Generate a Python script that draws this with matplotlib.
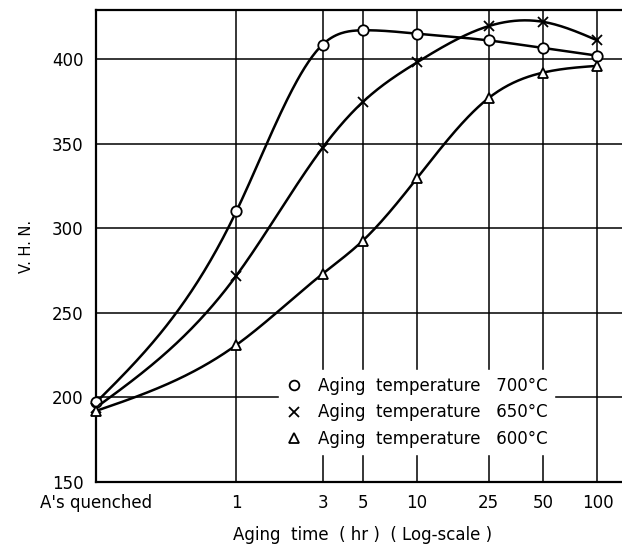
import numpy as np
import matplotlib
matplotlib.use("Agg")
import matplotlib.pyplot as plt
from matplotlib.lines import Line2D

# aging time positions (hr); "As quenched" is put left of 1 hr on the log axis
times = [0.167, 1, 3, 5, 10, 25, 50, 100]
tick_times = [0.167, 1, 3, 5, 10, 25, 50, 100]
tick_labels = ["A's quenched", "1", "3", "5", "10", "25", "50", "100"]

vhn_700 = [197, 310, 408.5, 417, 415, 411, 406.5, 402]
vhn_650 = [194, 272, 347.5, 374.5, 398, 419.5, 422, 411]
vhn_600 = [192, 231, 273, 292.5, 329.5, 377, 392, 396]

legend_labels = ["Aging  temperature   700\u00b0C",
                 "Aging  temperature   650\u00b0C",
                 "Aging  temperature   600\u00b0C"]


def natural_spline(x, y, n=400):
    # natural cubic spline, used only to draw the smooth hand-drawn curve
    x = np.asarray(x, float)
    y = np.asarray(y, float)
    k = len(x)
    h = np.diff(x)
    A = np.zeros((k, k))
    b = np.zeros(k)
    A[0, 0] = A[-1, -1] = 1
    for i in range(1, k - 1):
        A[i, i - 1] = h[i - 1]
        A[i, i] = 2 * (h[i - 1] + h[i])
        A[i, i + 1] = h[i]
        b[i] = 6 * ((y[i + 1] - y[i]) / h[i] - (y[i] - y[i - 1]) / h[i - 1])
    m = np.linalg.solve(A, b)
    xs = np.linspace(x[0], x[-1], n)
    idx = np.clip(np.searchsorted(x, xs) - 1, 0, k - 2)
    x0, x1 = x[idx], x[idx + 1]
    hh = x1 - x0
    t0, t1 = x1 - xs, xs - x0
    ys = (m[idx] * t0 ** 3 + m[idx + 1] * t1 ** 3) / (6 * hh) \
        + (y[idx] / hh - m[idx] * hh / 6) * t0 \
        + (y[idx + 1] / hh - m[idx + 1] * hh / 6) * t1
    return xs, ys


fig = plt.figure(figsize=(6.22, 5.47), dpi=100)
ax = fig.add_axes([96 / 622, 1 - 482 / 547, 1 - 96 / 622 + 0.01, (482 - 10) / 547])

lx = np.log10(times)
for series, mk in [(vhn_700, "o"), (vhn_650, "x"), (vhn_600, "^")]:
    xs, ys = natural_spline(lx, series)
    ax.plot(10 ** xs, ys, color="black", lw=1.8, zorder=3)
    if mk == "x":
        ax.plot(times, series, ls="none", marker="x", ms=7, mew=1.3,
                color="black", zorder=4, clip_on=False)
    else:
        ax.plot(times, series, ls="none", marker=mk, ms=7.5, mew=1.3,
                mfc="white", mec="black", zorder=4, clip_on=False)

ax.set_xscale("log")
ax.set_xlim(0.167, 148)
ax.set_ylim(150, 429)
ax.set_yticks([150, 200, 250, 300, 350, 400])
ax.set_xticks(tick_times)
ax.set_xticklabels(tick_labels)
ax.minorticks_off()
ax.tick_params(length=0, labelsize=12, pad=9)

for t in tick_times[1:]:
    ax.axvline(t, color="black", lw=1.1, zorder=1)
for v in [200, 250, 300, 350, 400]:
    ax.axhline(v, color="black", lw=1.1, zorder=1)

for s in ["left", "bottom", "top"]:
    ax.spines[s].set_linewidth(1.6)
ax.spines["right"].set_visible(False)

ax.set_xlabel("Aging  time  ( hr )  ( Log-scale )", fontsize=12, labelpad=10)
ax.set_ylabel("V. H. N.", fontsize=10.5, labelpad=13)

handles = [
    Line2D([], [], ls="none", marker="o", ms=7, mew=1.3, mfc="white", mec="black"),
    Line2D([], [], ls="none", marker="x", ms=7, mew=1.3, color="black"),
    Line2D([], [], ls="none", marker="^", ms=7, mew=1.3, mfc="white", mec="black"),
]
leg = ax.legend(handles, legend_labels, loc="upper left",
                bbox_to_anchor=((271 - 96) / (622 * ax.get_position().width), (482 - 362) / 472),
                frameon=True, fancybox=False, framealpha=1, edgecolor="white",
                fontsize=12, handlelength=1, handletextpad=0.9,
                labelspacing=0.5, borderpad=0.4)
leg.set_zorder(5)

fig.savefig("out.png", dpi=100)
